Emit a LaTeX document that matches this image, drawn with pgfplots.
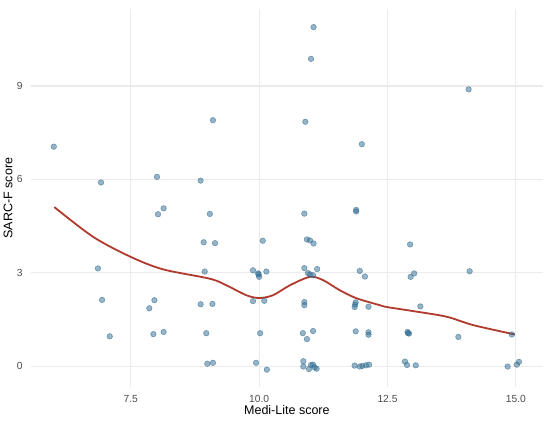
\documentclass[border=0pt]{standalone}
\usepackage{fontspec}
\setmainfont{Liberation Sans}
\usepackage{pgfplots}
\pgfplotsset{compat=1.18}
\definecolor{pcol}{HTML}{2E6A8F}
\definecolor{lcol}{HTML}{B03A2E}
\definecolor{gcol}{HTML}{EBEBEB}
\definecolor{tcol}{HTML}{4D4D4D}
\begin{document}
\begin{tikzpicture}
\useasboundingbox (-22.1pt,-24.5pt) rectangle (373.9pt,278.7pt);
\begin{axis}[
  at={(0,0)}, anchor=south west,
  scale only axis, width=368.9pt, height=272.2pt,
  xmin=5.55, xmax=15.53, ymin=-0.67, ymax=11.47,
  axis line style={draw=none}, tick style={draw=none},
  grid=major, major grid style={gcol, line width=0.8pt},
  xtick={7.5,10,12.5,15}, xticklabels={7.5,10.0,12.5,15.0},
  ytick={0,3,6,9},
  /pgf/number format/assume math mode=true,
  ticklabel style={font=\fontsize{7.4}{8}\selectfont, text=tcol},
  xticklabel style={yshift=-2.4pt},
  yticklabel style={xshift=-2.3pt},
  label style={font=\fontsize{9}{10}\selectfont},
  xlabel={Medi-Lite score}, ylabel={SARC-F score},
  xlabel style={at={(axis description cs:0.5,0)}, anchor=center, yshift=-16.6pt},
  ylabel style={at={(axis description cs:0,0.5)}, anchor=center, rotate=0, yshift=16.3pt},
]
\addplot[only marks, mark=*, mark size=2pt, mark options={fill=pcol, draw=pcol, fill opacity=0.5, draw opacity=0.6}] coordinates {
(6.00,7.05) (9.10,7.90) (6.92,5.90) (8.01,6.08) (8.86,5.96) (8.14,5.07) (8.03,4.88) (9.04,4.89)
(8.92,3.98) (9.14,3.95) (10.07,4.03) (6.86,3.14) (8.94,3.04) (9.88,3.08) (9.98,2.98) (9.99,2.95)
(10.00,2.87) (10.14,3.04) (6.94,2.13) (7.96,2.12) (7.86,1.86) (8.86,1.99) (9.09,2.00) (9.88,2.09)
(10.10,2.10) (7.09,0.96) (7.94,1.03) (8.14,1.10) (8.97,1.06) (10.02,1.06) (8.99,0.08) (9.10,0.11)
(9.94,0.11) (10.15,-0.11) (10.88,4.90) (11.89,4.97) (11.89,5.02) (10.93,4.07) (10.99,4.04) (11.06,3.94)
(12.94,3.91) (10.88,3.15) (10.95,2.99) (10.99,2.95) (11.05,2.92) (11.13,3.12) (11.96,3.06) (12.06,2.88)
(13.02,2.98) (12.95,2.87) (14.10,3.05) (10.88,2.06) (10.88,1.96) (11.88,2.05) (11.87,1.98) (11.86,1.90)
(12.13,1.91) (13.14,1.92) (10.85,1.06) (11.05,1.13) (10.93,0.87) (11.88,1.12) (12.13,1.09) (12.13,1.01)
(12.89,1.10) (12.92,1.05) (12.90,1.06) (13.88,0.94) (14.92,1.02) (10.86,0.16) (10.86,-0.01) (10.97,-0.09)
(11.01,0.04) (11.05,0.05) (11.08,-0.04) (11.12,-0.08) (11.86,0.02) (11.96,-0.01) (12.01,0.01) (12.08,0.03)
(12.14,0.05) (12.84,0.15) (12.88,0.04) (13.05,0.03) (14.84,-0.01) (15.02,0.05) (15.06,0.14)
(11.06,10.89) (11.01,9.87) (14.08,8.89) (10.90,7.85) (12.00,7.13)
};
\addplot[lcol, line width=1.3pt, smooth, no marks] coordinates {
(6.01,5.11) (6.77,4.15) (7.50,3.51) (8.13,3.11) (9.04,2.81) (9.36,2.60) (9.75,2.28) (10.00,2.19)
(10.27,2.28) (10.60,2.60) (10.99,2.87) (11.25,2.76) (11.57,2.44) (11.90,2.18) (12.35,1.96) (12.49,1.90)
(13.00,1.77) (13.65,1.59) (14.17,1.32) (14.98,1.02)
};
\end{axis}
\end{tikzpicture}
\end{document}
